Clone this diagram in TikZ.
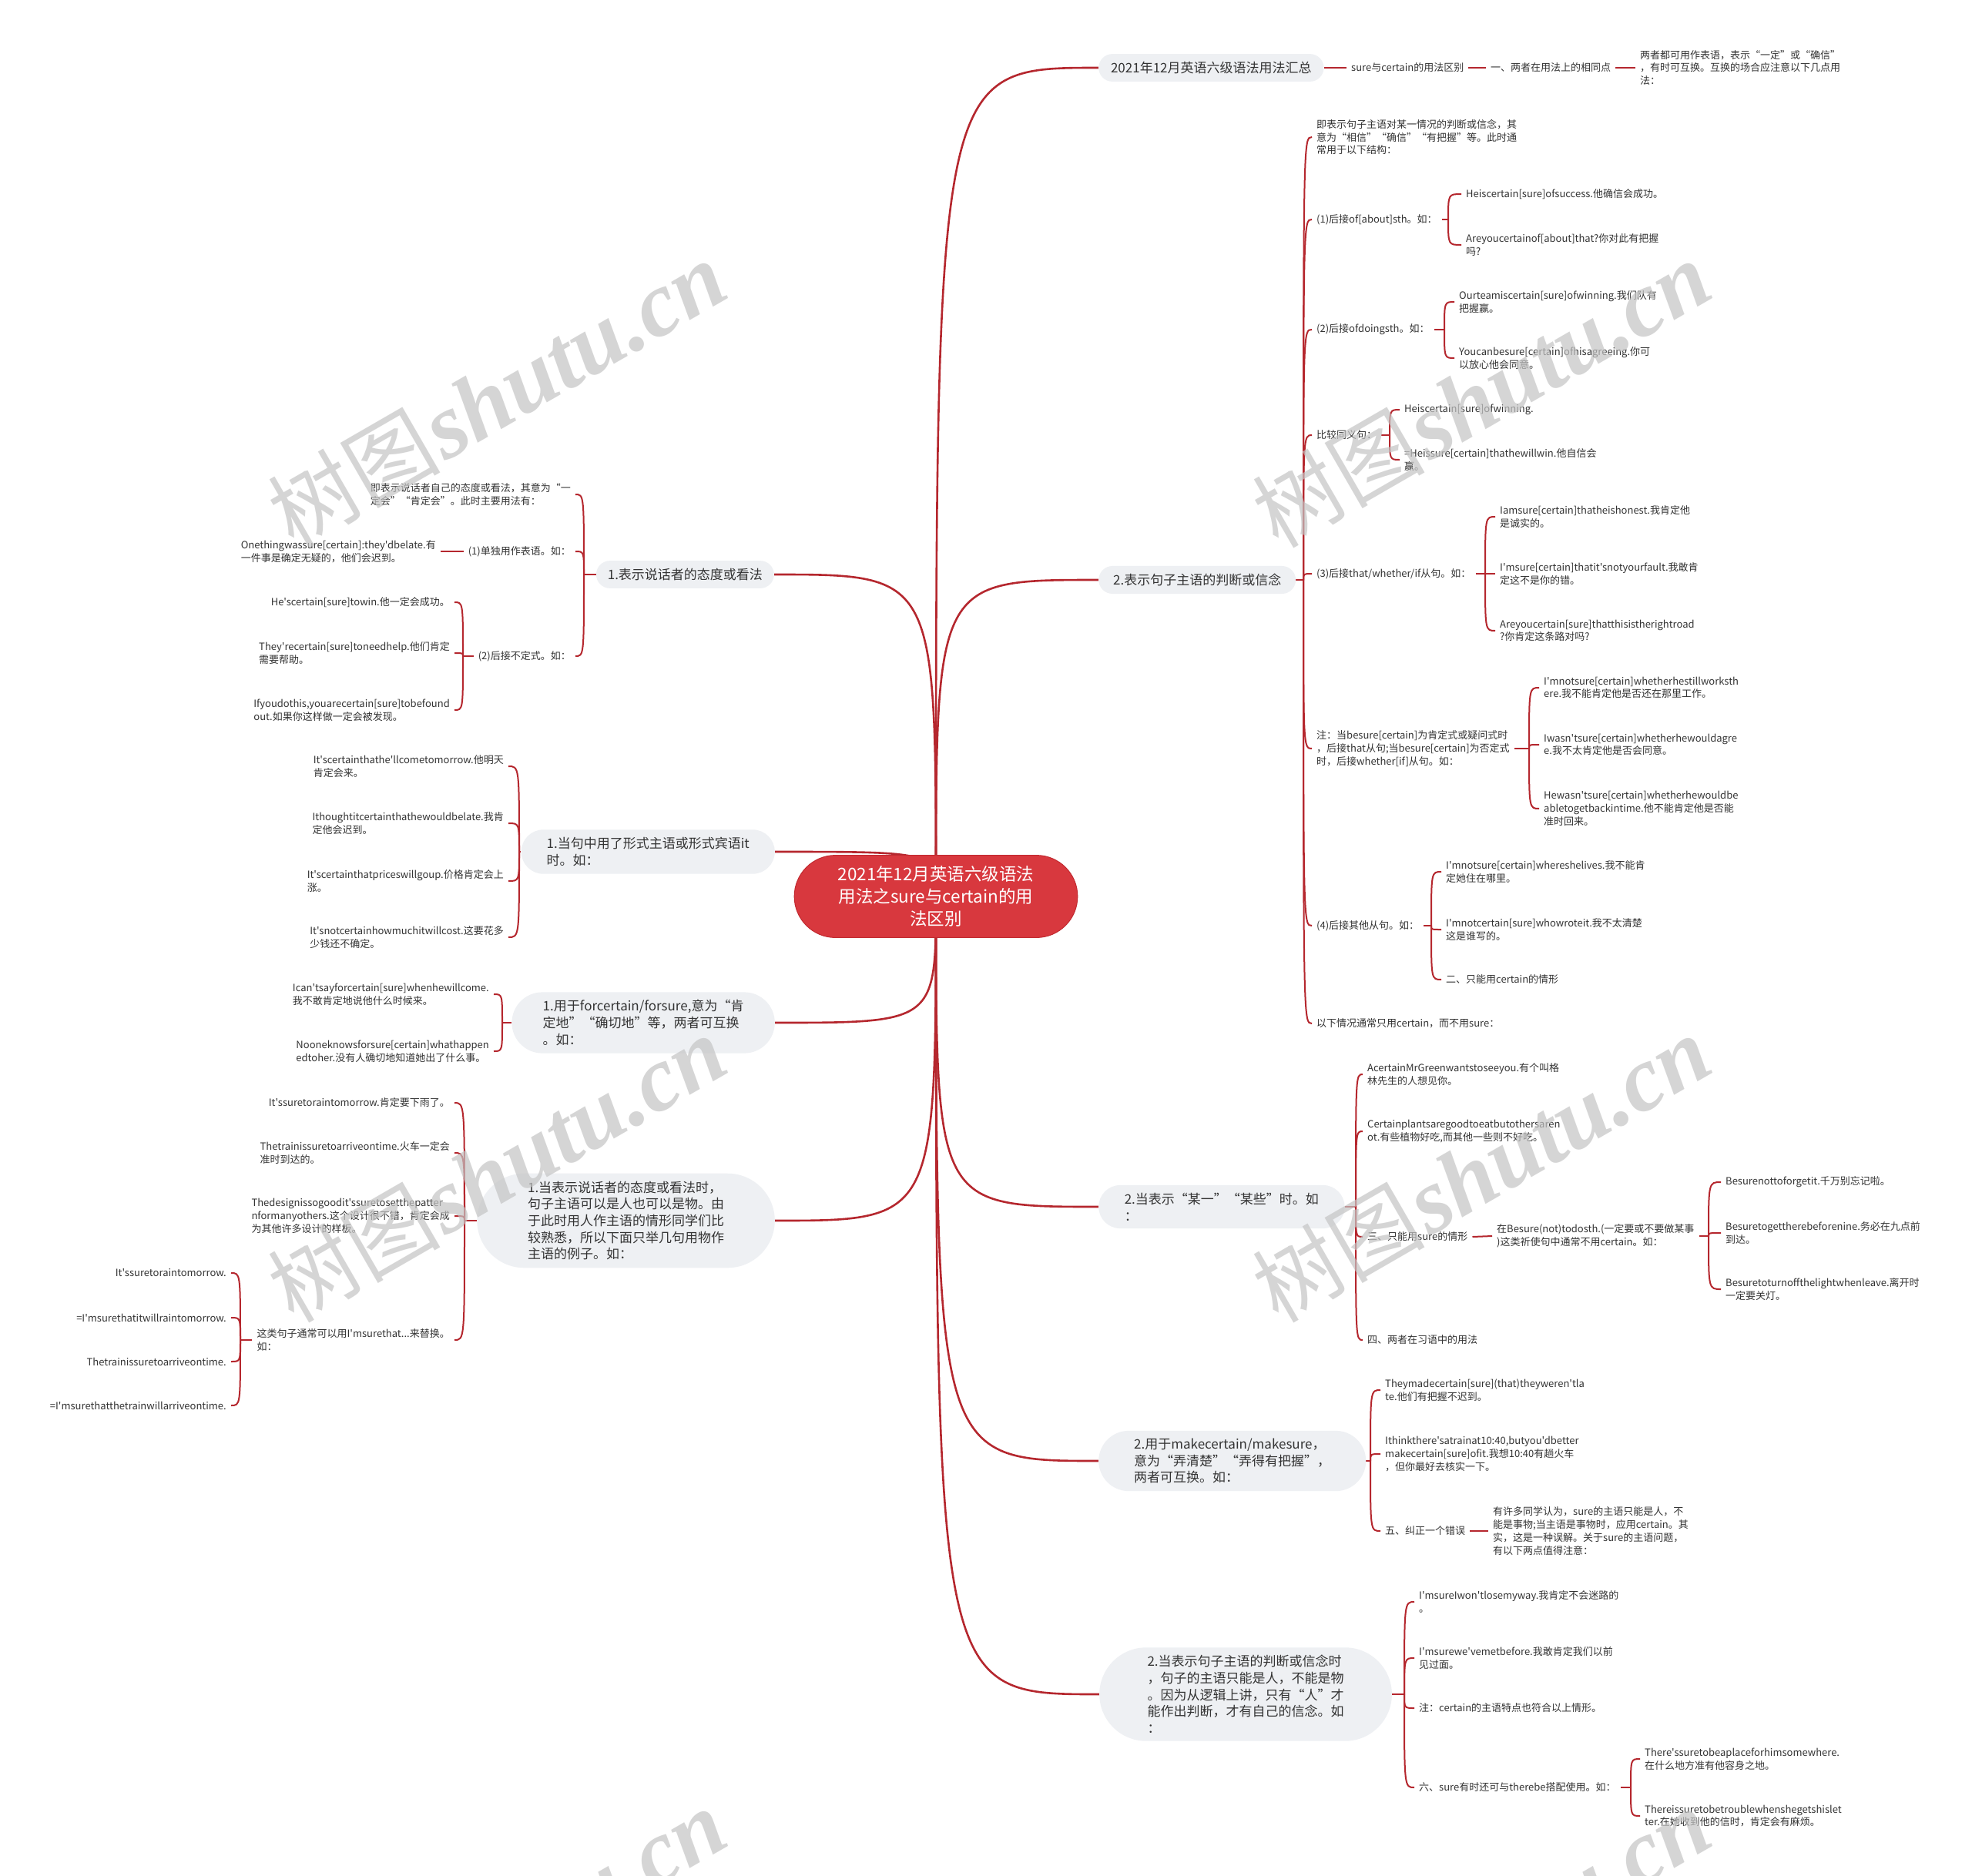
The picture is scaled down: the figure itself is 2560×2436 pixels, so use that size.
\documentclass[tikz,border=0pt]{standalone}
\usepackage{fontspec}
\newfontfamily\cjk{Noto Sans CJK SC}
\newfontfamily\wmser{Liberation Serif}
\usetikzlibrary{shapes.misc}
\definecolor{lnk}{HTML}{B5272E}
\definecolor{rootc}{HTML}{D8383E}
\definecolor{rootb}{HTML}{C22A30}
\definecolor{lvc}{HTML}{EEF0F3}
\definecolor{txc}{HTML}{333333}
\definecolor{wmc}{HTML}{C4C4C4}
\pgfdeclarelayer{bg}
\pgfsetlayers{bg,main}
\newcommand\cbR[2]{\draw[subln] (#1) .. controls (#1 |- #2.west) .. (#2.west);}
\newcommand\cbL[2]{\draw[subln] (#1) .. controls (#1 |- #2.east) .. (#2.east);}
\newcommand\rtR[1]{\draw[mainln] (M.center) .. controls (M.center |- #1.west) .. (#1.west);}
\newcommand\rtL[1]{\draw[mainln] (M.center) .. controls (M.center |- #1.east) .. (#1.east);}
\tikzset{
 root/.style={rounded rectangle, fill=rootc, draw=rootb, line width=1pt, text=white, font=\cjk\fontsize{22.5}{29}\selectfont, align=center, inner xsep=39pt, inner ysep=14pt},
 lv/.style={rounded rectangle, fill=lvc, text=txc, font=\cjk\fontsize{17}{21.7}\selectfont, align=left, inner xsep=15pt, inner ysep=10pt},
 leaf/.style={text=txc, font=\cjk\fontsize{13}{16.7}\selectfont, align=left, inner xsep=6pt, inner ysep=2pt},
 mainln/.style={draw=lnk, line width=2.6pt},
 subln/.style={draw=lnk, line width=2pt},
 wm/.style={text=wmc, opacity=0.7, rotate=30, inner sep=0pt}
}
\begin{document}
\begin{tikzpicture}[x=1pt,y=-1pt]
\useasboundingbox (0,0) rectangle (2560,2436);

% root
\node[root] (M) at (1215,1164) {2021年12月英语六级语法\\用法之sure与certain的用\\法区别};

% ---------- right side ----------
\node[lv, anchor=west, inner xsep=14pt] (A) at (1426,88) {2021年12月英语六级语法用法汇总};
\node[leaf, anchor=west] (A1) at (1748,88) {sure与certain的用法区别};
\node[leaf, anchor=west] (A2) at (1929,88) {一、两者在用法上的相同点};
\node[leaf, anchor=west] (A3) at (2123,88) {两者都可用作表语，表示“一定”或“确信”\\，有时可互换。互换的场合应注意以下几点用\\法：};

\node[lv, anchor=west, inner xsep=17pt] (B) at (1426,753) {2.表示句子主语的判断或信念};
\coordinate (Bs) at (1692,753);
\node[leaf, anchor=west] (B1) at (1703,178) {即表示句子主语对某一情况的判断或信念，其\\意为“相信”“确信”“有把握”等。此时通\\常用于以下结构：};
\node[leaf, anchor=west] (B2) at (1703,285) {(1)后接of[about]sth。如：};
\coordinate (B2s) at (1880,285);
\node[leaf, anchor=west] (B21) at (1897,252) {Heiscertain[sure]ofsuccess.他确信会成功。};
\node[leaf, anchor=west] (B22) at (1897,318) {Areyoucertainof[about]that?你对此有把握\\吗?};
\node[leaf, anchor=west] (B3) at (1703,428) {(2)后接ofdoingsth。如：};
\coordinate (B3s) at (1875,428);
\node[leaf, anchor=west] (B31) at (1888,392) {Ourteamiscertain[sure]ofwinning.我们队有\\把握赢。};
\node[leaf, anchor=west] (B32) at (1888,465) {Youcanbesure[certain]ofhisagreeing.你可\\以放心他会同意。};
\node[leaf, anchor=west] (B4) at (1703,565) {比较同义句：};
\coordinate (B4s) at (1804,565);
\node[leaf, anchor=west] (B41) at (1817,532) {Heiscertain[sure]ofwinning.};
\node[leaf, anchor=west] (B42) at (1817,597) {=Heissure[certain]thathewillwin.他自信会\\赢。};
\node[leaf, anchor=west] (B5) at (1703,745) {(3)后接that/whether/if从句。如：};
\coordinate (B5s) at (1928,745);
\node[leaf, anchor=west] (B51) at (1941,671) {Iamsure[certain]thatheishonest.我肯定他\\是诚实的。};
\node[leaf, anchor=west] (B52) at (1941,745) {I'msure[certain]thatit'snotyourfault.我敢肯\\定这不是你的错。};
\node[leaf, anchor=west] (B53) at (1941,819) {Areyoucertain[sure]thatthisistherightroad\\?你肯定这条路对吗?};
\node[leaf, anchor=west] (B6) at (1703,972) {注：当besure[certain]为肯定式或疑问式时\\，后接that从句;当besure[certain]为否定式\\时，后接whether[if]从句。如：};
\coordinate (B6s) at (1985,972);
\node[leaf, anchor=west] (B61) at (1998,893) {I'mnotsure[certain]whetherhestillworksth\\ere.我不能肯定他是否还在那里工作。};
\node[leaf, anchor=west] (B62) at (1998,967) {Iwasn'tsure[certain]whetherhewouldagre\\e.我不太肯定他是否会同意。};
\node[leaf, anchor=west] (B63) at (1998,1050) {Hewasn'tsure[certain]whetherhewouldbe\\abletogetbackintime.他不能肯定他是否能\\准时回来。};
\node[leaf, anchor=west] (B7) at (1703,1202) {(4)后接其他从句。如：};
\coordinate (B7s) at (1858,1202);
\node[leaf, anchor=west] (B71) at (1871,1132) {I'mnotsure[certain]whereshelives.我不能肯\\定她住在哪里。};
\node[leaf, anchor=west] (B72) at (1871,1207) {I'mnotcertain[sure]whowroteit.我不太清楚\\这是谁写的。};
\node[leaf, anchor=west] (B73) at (1871,1272) {二、只能用certain的情形};
\node[leaf, anchor=west] (B8) at (1703,1329) {以下情况通常只用certain，而不用sure：};

\node[lv, anchor=west, inner xsep=27pt] (C) at (1426,1567) {2.当表示“某一”“某些”时。如\\：};
\coordinate (Cs) at (1760,1567);
\node[leaf, anchor=west] (C1) at (1769,1395) {AcertainMrGreenwantstoseeyou.有个叫格\\林先生的人想见你。};
\node[leaf, anchor=west] (C2) at (1769,1469) {Certainplantsaregoodtoeatbutothersaren\\ot.有些植物好吃,而其他一些则不好吃。};
\node[leaf, anchor=west] (C3) at (1769,1606) {三、只能用sure的情形};
\node[leaf, anchor=west] (C31) at (1937,1605) {在Besure(not)todosth.(一定要或不要做某事\\)这类祈使句中通常不用certain。如：};
\coordinate (C31s) at (2218,1605);
\node[leaf, anchor=west] (C311) at (2234,1535) {Besurenottoforgetit.千万别忘记啦。};
\node[leaf, anchor=west] (C312) at (2234,1601) {Besuretogettherebeforenine.务必在九点前\\到达。};
\node[leaf, anchor=west] (C313) at (2234,1674) {Besuretoturnoffthelightwhenleave.离开时\\一定要关灯。};
\node[leaf, anchor=west] (C4) at (1769,1740) {四、两者在习语中的用法};

\node[lv, anchor=west, inner xsep=33pt] (D) at (1426,1897) {2.用于makecertain/makesure，\\意为“弄清楚”“弄得有把握”，\\两者可互换。如：};
\coordinate (Ds) at (1779,1897);
\node[leaf, anchor=west] (D1) at (1792,1805) {Theymadecertain[sure](that)theyweren'tla\\te.他们有把握不迟到。};
\node[leaf, anchor=west] (D2) at (1792,1888) {Ithinkthere'satrainat10:40,butyou'dbetter\\makecertain[sure]ofit.我想10:40有趟火车\\，但你最好去核实一下。};
\node[leaf, anchor=west] (D3) at (1792,1988) {五、纠正一个错误};
\node[leaf, anchor=west] (D31) at (1932,1988) {有许多同学认为，sure的主语只能是人，不\\能是事物;当主语是事物时，应用certain。其\\实，这是一种误解。关于sure的主语问题，\\有以下两点值得注意：};

\node[lv, anchor=west, inner xsep=35pt] (E) at (1427,2200) {2.当表示句子主语的判断或信念时\\，句子的主语只能是人，不能是物\\。因为从逻辑上讲，只有“人”才\\能作出判断，才有自己的信念。如\\：};
\coordinate (Es) at (1823,2200);
\node[leaf, anchor=west] (E1) at (1836,2080) {I'msureIwon'tlosemyway.我肯定不会迷路的\\。};
\node[leaf, anchor=west] (E2) at (1836,2153) {I'msurewe'vemetbefore.我敢肯定我们以前\\见过面。};
\node[leaf, anchor=west] (E3) at (1836,2218) {注：certain的主语特点也符合以上情形。};
\node[leaf, anchor=west] (E4) at (1836,2321) {六、sure有时还可与therebe搭配使用。如：};
\coordinate (E4s) at (2117,2321);
\node[leaf, anchor=west] (E41) at (2129,2284) {There'ssuretobeaplaceforhimsomewhere.\\在什么地方准有他容身之地。};
\node[leaf, anchor=west] (E42) at (2129,2358) {Thereissuretobetroublewhenshegetshislet\\ter.在她收到他的信时，肯定会有麻烦。};

% ---------- left side ----------
\node[lv, anchor=east, inner xsep=13pt] (F) at (1005,746) {1.表示说话者的态度或看法};
\coordinate (Fs) at (758,746);
\node[leaf, anchor=east] (F1) at (747,642) {即表示说话者自己的态度或看法，其意为“一\\定会”“肯定会”。此时主要用法有：};
\node[leaf, anchor=east] (F2) at (747,716) {(1)单独用作表语。如：};
\node[leaf, anchor=east] (F21) at (572,716) {Onethingwassure[certain]:they'dbelate.有\\一件事是确定无疑的，他们会迟到。};
\node[leaf, anchor=east] (F3) at (747,852) {(2)后接不定式。如：};
\coordinate (F3s) at (601,852);
\node[leaf, anchor=east] (F31) at (590,782) {He'scertain[sure]towin.他一定会成功。};
\node[leaf, anchor=east] (F32) at (590,848) {They'recertain[sure]toneedhelp.他们肯定\\需要帮助。};
\node[leaf, anchor=east] (F33) at (590,922) {Ifyoudothis,youarecertain[sure]tobefound\\out.如果你这样做一定会被发现。};

\node[lv, anchor=east, inner xsep=26pt] (G) at (1006,1106) {1.当句中用了形式主语或形式宾语it\\时。如：};
\coordinate (Gs) at (674,1106);
\node[leaf, anchor=east] (G1) at (660,995) {It'scertainthathe'llcometomorrow.他明天\\肯定会来。};
\node[leaf, anchor=east] (G2) at (660,1069) {Ithoughtitcertainthathewouldbelate.我肯\\定他会迟到。};
\node[leaf, anchor=east] (G3) at (660,1144) {It'scertainthatpriceswillgoup.价格肯定会上\\涨。};
\node[leaf, anchor=east] (G4) at (660,1217) {It'snotcertainhowmuchitwillcost.这要花多\\少钱还不确定。};

\node[lv, anchor=east, inner xsep=27pt] (H) at (1006,1328) {1.用于forcertain/forsure,意为“肯\\定地”“确切地”等，两者可互换\\。如：};
\coordinate (Hs) at (652,1328);
\node[leaf, anchor=east] (H1) at (641,1291) {Ican'tsayforcertain[sure]whenhewillcome.\\我不敢肯定地说他什么时候来。};
\node[leaf, anchor=east] (H2) at (641,1365) {Nooneknowsforsure[certain]whathappen\\edtoher.没有人确切地知道她出了什么事。};

\node[lv, anchor=east, inner xsep=38pt] (I) at (1006,1585) {1.当表示说话者的态度或看法时，\\句子主语可以是人也可以是物。由\\于此时用人作主语的情形同学们比\\较熟悉，所以下面只举几句用物作\\主语的例子。如：};
\coordinate (Is) at (603,1585);
\node[leaf, anchor=east] (I1) at (590,1432) {It'ssuretoraintomorrow.肯定要下雨了。};
\node[leaf, anchor=east] (I2) at (590,1497) {Thetrainissuretoarriveontime.火车一定会\\准时到达的。};
\node[leaf, anchor=east] (I3) at (590,1579) {Thedesignissogoodit'ssuretosetthepatter\\nformanyothers.这个设计很不错，肯定会成\\为其他许多设计的样板。};
\node[leaf, anchor=east] (I4) at (590,1740) {这类句子通常可以用I'msurethat...来替换。\\如：};
\coordinate (I4s) at (312,1740);
\node[leaf, anchor=east] (I41) at (300,1653) {It'ssuretoraintomorrow.};
\node[leaf, anchor=east] (I42) at (300,1711) {=I'msurethatitwillraintomorrow.};
\node[leaf, anchor=east] (I43) at (300,1768) {Thetrainissuretoarriveontime.};
\node[leaf, anchor=east] (I44) at (300,1825) {=I'msurethatthetrainwillarriveontime.};

% ---------- connectors ----------
\begin{pgfonlayer}{bg}
\fill[white] (0,0) rectangle (2560,2436);
\rtR{A}\rtR{B}\rtR{C}\rtR{D}\rtR{E}
\rtL{F}\rtL{G}\rtL{H}\rtL{I}
\draw[subln] (A.east) -- (A1.west);
\draw[subln] (A1.east) -- (A2.west);
\draw[subln] (A2.east) -- (A3.west);
\draw[subln] (B.east) -- (Bs);
\cbR{Bs}{B1}\cbR{Bs}{B2}\cbR{Bs}{B3}\cbR{Bs}{B4}\cbR{Bs}{B5}\cbR{Bs}{B6}\cbR{Bs}{B7}\cbR{Bs}{B8}
\draw[subln] (B2.east) -- (B2s); \cbR{B2s}{B21}\cbR{B2s}{B22}
\draw[subln] (B3.east) -- (B3s); \cbR{B3s}{B31}\cbR{B3s}{B32}
\draw[subln] (B4.east) -- (B4s); \cbR{B4s}{B41}\cbR{B4s}{B42}
\draw[subln] (B5.east) -- (B5s); \cbR{B5s}{B51}\cbR{B5s}{B52}\cbR{B5s}{B53}
\draw[subln] (B6.east) -- (B6s); \cbR{B6s}{B61}\cbR{B6s}{B62}\cbR{B6s}{B63}
\draw[subln] (B7.east) -- (B7s); \cbR{B7s}{B71}\cbR{B7s}{B72}\cbR{B7s}{B73}
\draw[subln] (C.east) -- (Cs);
\cbR{Cs}{C1}\cbR{Cs}{C2}\cbR{Cs}{C3}\cbR{Cs}{C4}
\draw[subln] (C3.east) -- (C31.west);
\draw[subln] (C31.east) -- (C31s); \cbR{C31s}{C311}\cbR{C31s}{C312}\cbR{C31s}{C313}
\draw[subln] (D.east) -- (Ds);
\cbR{Ds}{D1}\cbR{Ds}{D2}\cbR{Ds}{D3}
\draw[subln] (D3.east) -- (D31.west);
\draw[subln] (E.east) -- (Es);
\cbR{Es}{E1}\cbR{Es}{E2}\cbR{Es}{E3}\cbR{Es}{E4}
\draw[subln] (E4.east) -- (E4s); \cbR{E4s}{E41}\cbR{E4s}{E42}
\draw[subln] (F.west) -- (Fs);
\cbL{Fs}{F1}\cbL{Fs}{F2}\cbL{Fs}{F3}
\draw[subln] (F2.west) -- (F21.east);
\draw[subln] (F3.west) -- (F3s); \cbL{F3s}{F31}\cbL{F3s}{F32}\cbL{F3s}{F33}
\draw[subln] (G.west) -- (Gs);
\cbL{Gs}{G1}\cbL{Gs}{G2}\cbL{Gs}{G3}\cbL{Gs}{G4}
\draw[subln] (H.west) -- (Hs);
\cbL{Hs}{H1}\cbL{Hs}{H2}
\draw[subln] (I.west) -- (Is);
\cbL{Is}{I1}\cbL{Is}{I2}\cbL{Is}{I3}\cbL{Is}{I4}
\draw[subln] (I4.west) -- (I4s); \cbL{I4s}{I41}\cbL{I4s}{I42}\cbL{I4s}{I43}\cbL{I4s}{I44}
\end{pgfonlayer}

% ---------- watermarks ----------
\foreach \wx/\wy/\wn in {645/512/1, 1923/512/2, 645/1518/3, 1923/1518/4, 645/2522/5, 1923/2522/6}{
  \node[wm] (wm\wn) at (\wx,\wy) {{\cjk\fontsize{112}{120}\selectfont 树图} {\wmser\bfseries\itshape\fontsize{120}{120}\selectfont shutu.cn}};
}
\end{tikzpicture}
\end{document}
